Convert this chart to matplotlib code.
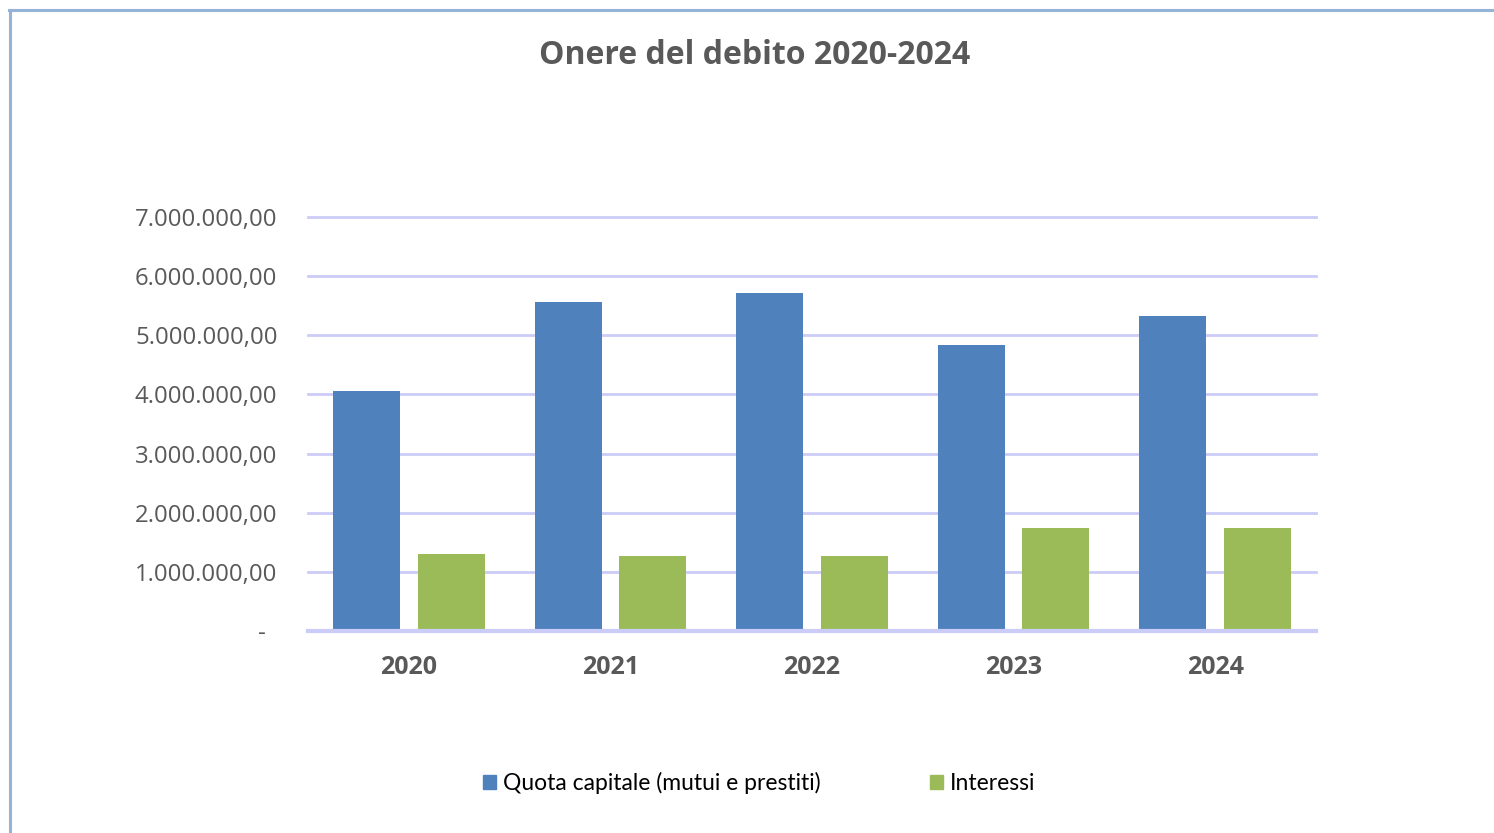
import matplotlib
matplotlib.use("Agg")
import matplotlib.pyplot as plt
from matplotlib.lines import Line2D
from matplotlib.patches import Patch
from matplotlib.transforms import ScaledTranslation
import numpy as np

years = ["2020", "2021", "2022", "2023", "2024"]
quota_capitale = [4058000, 5563000, 5715000, 4836000, 5326000]
interessi = [1302000, 1268000, 1268000, 1742000, 1742000]
yticks = [0, 1e6, 2e6, 3e6, 4e6, 5e6, 6e6, 7e6]
ytick_labels = ["-", "1.000.000,00", "2.000.000,00", "3.000.000,00", "4.000.000,00",
                "5.000.000,00", "6.000.000,00", "7.000.000,00"]
series_names = ["Quota capitale (mutui e prestiti)", "Interessi"]

BLUE = "#4F81BD"
GREEN = "#9BBB59"
GRID = "#CCCCF8"
TXT = "#595959"

fig = plt.figure(figsize=(14.94, 8.33), dpi=100)
ax = fig.add_axes([308/1494, 1-631/833, (1316-308)/1494, (631-217)/833])

x = np.arange(len(years))
w = 0.332
ax.bar(x - 0.21, quota_capitale, w, color=BLUE, zorder=3)
ax.bar(x + 0.21, interessi, w, color=GREEN, zorder=3)

ax.set_xlim(-0.5, len(years) - 0.5)
ax.set_ylim(0, 7e6)
ax.set_yticks(yticks)
ax.set_yticklabels(ytick_labels, fontfamily="Open Sans", fontsize=17.3, color=TXT)
ax.set_xticks(x)
ax.set_xticklabels(years, fontfamily="Open Sans", fontsize=18, fontweight="bold", color=TXT)
ax.tick_params(axis="y", length=0, pad=22)
ax.tick_params(axis="x", length=0, pad=17)
zero_lbl = ax.get_yticklabels()[0]
zero_lbl.set_transform(zero_lbl.get_transform() + ScaledTranslation(-0.12, 0, fig.dpi_scale_trans))
for v in yticks[1:]:
    ax.axhline(v, color=GRID, lw=2, zorder=1, clip_on=False)
ax.axhline(0, color=GRID, lw=3, zorder=4, clip_on=False)
for s in ax.spines.values():
    s.set_visible(False)

fig.text(755/1494, 1-55/833, "Onere del debito 2020-2024", ha="center", va="center",
         fontfamily="Open Sans", fontsize=23, fontweight="bold", color=TXT)

handles = [Patch(color=BLUE), Patch(color=GREEN)]
fig.legend(handles, series_names, loc="center", bbox_to_anchor=(759/1494, 1-783/833),
           ncol=2, frameon=False, prop={"family": "Lato", "size": 16.5},
           handlelength=0.57, handleheight=0.57, handletextpad=0.3, columnspacing=4.75)

fig.add_artist(Line2D([9/1494, 1.0], [1-10/833, 1-10/833], color="#95B3D7", lw=2.2,
                      transform=fig.transFigure))
fig.add_artist(Line2D([9.5/1494, 9.5/1494], [1-10/833, 0], color="#95B3D7", lw=2.2,
                      transform=fig.transFigure))

fig.savefig("out.png", dpi=100, facecolor="white")
